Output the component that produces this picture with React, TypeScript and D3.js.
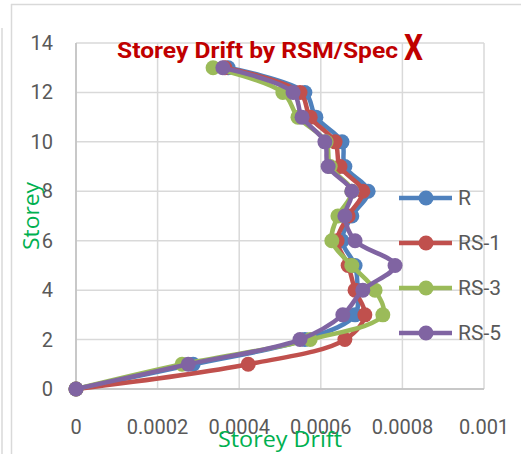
import React from "react";
import * as d3 from "d3";

const storeys = [0, 1, 2, 3, 4, 5, 6, 7, 8, 9, 10, 11, 12, 13];
const seriesNames = ["R", "RS-1", "RS-3", "RS-5"];
const seriesColors = ["#4F81BD", "#C0504D", "#9BBB59", "#8064A2"];
const driftR = [0, 0.000287, 0.000561, 0.000684, 0.00069, 0.000684, 0.000652, 0.000676, 0.000716, 0.000659, 0.000652, 0.000588, 0.000561, 0.000373];
const driftRS1 = [0, 0.000422, 0.000659, 0.000708, 0.000684, 0.000667, 0.00064, 0.000667, 0.000703, 0.000647, 0.000635, 0.000574, 0.000549, 0.000365];
const driftRS3 = [0, 0.00026, 0.000574, 0.000752, 0.000733, 0.000676, 0.000627, 0.000642, 0.000676, 0.000623, 0.000613, 0.000544, 0.000507, 0.000336];
const driftRS5 = [0, 0.000275, 0.000549, 0.000654, 0.000703, 0.000782, 0.000684, 0.000659, 0.000676, 0.000618, 0.00061, 0.000554, 0.000532, 0.00036];
const allSeries = [driftR, driftRS1, driftRS3, driftRS5];
const xTicks = [0, 0.0002, 0.0004, 0.0006, 0.0008, 0.001];
const xTickLabels = ["0", "0.0002", "0.0004", "0.0006", "0.0008", "0.001"];
const yTicks = [0, 2, 4, 6, 8, 10, 12, 14];

export default function App() {
  const W = 521, H = 454;
  const left = 76, right = 484, top = 43, bottom = 389;
  const x = d3.scaleLinear().domain([0, 0.001]).range([left, right]);
  const y = d3.scaleLinear().domain([0, 14]).range([bottom, top]);
  const line = d3
    .line<number>()
    .x((d) => x(d))
    .y((_, i) => y(storeys[i]))
    .curve(d3.curveCatmullRom.alpha(0.5));
  const font = "Roboto, 'Noto Sans', sans-serif";
  const titleFont = "'Open Sans', 'Noto Sans', sans-serif";
  const legendY = [198, 243, 288, 333];
  return (
    <svg
      width={W}
      height={H}
      style={{ position: "absolute", left: 0, top: 0, background: "#fff" }}
    >
      <rect x={0} y={0} width={W} height={H} fill="#fff" />
      {/* outer frame */}
      <line x1={11.5} y1={4} x2={11.5} y2={H} stroke="#d9d9d9" strokeWidth={1.5} />
      <line x1={11} y1={4.5} x2={W} y2={4.5} stroke="#d9d9d9" strokeWidth={1.5} />
      <line x1={2} y1={28} x2={2} y2={H} stroke="#d9d9d9" strokeWidth={1.5} />
      {/* grid */}
      {yTicks.map((t) => (
        <line key={"gy" + t} x1={left} x2={right} y1={y(t)} y2={y(t)} stroke="#d9d9d9" strokeWidth={1.5} />
      ))}
      {xTicks.map((t) => (
        <line key={"gx" + t} x1={x(t)} x2={x(t)} y1={top} y2={bottom} stroke="#d9d9d9" strokeWidth={1.5} />
      ))}
      <line x1={left} x2={left} y1={top} y2={bottom} stroke="#bfbfbf" strokeWidth={1.5} />
      <line x1={left} x2={right} y1={bottom} y2={bottom} stroke="#bfbfbf" strokeWidth={1.5} />
      {/* tick labels */}
      {yTicks.map((t) => (
        <text key={"ty" + t} x={53} y={y(t)} dy="0.35em" textAnchor="end" fontFamily={font} fontSize={20} fill="#595959">
          {t}
        </text>
      ))}
      {xTicks.map((t, i) => (
        <text key={"tx" + t} x={x(t)} y={434} textAnchor="middle" fontFamily={font} fontSize={20} fill="#595959">
          {xTickLabels[i]}
        </text>
      ))}
      {/* series */}
      {allSeries.map((s, si) => (
        <g key={"s" + si}>
          <path d={line(s) || ""} fill="none" stroke={seriesColors[si]} strokeWidth={4.5} strokeLinejoin="round" />
          {s.map((v, i) => (
            <circle key={i} cx={x(v)} cy={y(storeys[i])} r={7.5} fill={seriesColors[si]} />
          ))}
        </g>
      ))}
      {/* title */}
      <text x={117} y={58} fontFamily={font} fontWeight="bold" fontSize={22} fill="#C00000" textLength={281} lengthAdjust="spacingAndGlyphs">
        Storey Drift by RSM/Spec
      </text>
      <text x={404} y={60} fontFamily={font} fontWeight="bold" fontSize={36} fill="#C00000" textLength={19} lengthAdjust="spacingAndGlyphs">
        X
      </text>
      {/* axis titles */}
      <text x={218} y={447} fontFamily={titleFont} fontSize={21} fill="#00B050" textLength={124} lengthAdjust="spacingAndGlyphs">
        Storey Drift
      </text>
      <text transform="translate(39,250) rotate(-90)" fontFamily={titleFont} fontSize={21} fill="#00B050" textLength={68} lengthAdjust="spacingAndGlyphs">
        Storey
      </text>
      {/* legend */}
      {seriesNames.map((n, i) => (
        <g key={"l" + n}>
          <line x1={399} x2={452} y1={legendY[i]} y2={legendY[i]} stroke={seriesColors[i]} strokeWidth={4.5} />
          <circle cx={426} cy={legendY[i]} r={7.5} fill={seriesColors[i]} />
          <text x={458} y={legendY[i]} dy="0.35em" fontFamily={font} fontSize={21} fill="#595959">
            {n}
          </text>
        </g>
      ))}
    </svg>
  );
}
